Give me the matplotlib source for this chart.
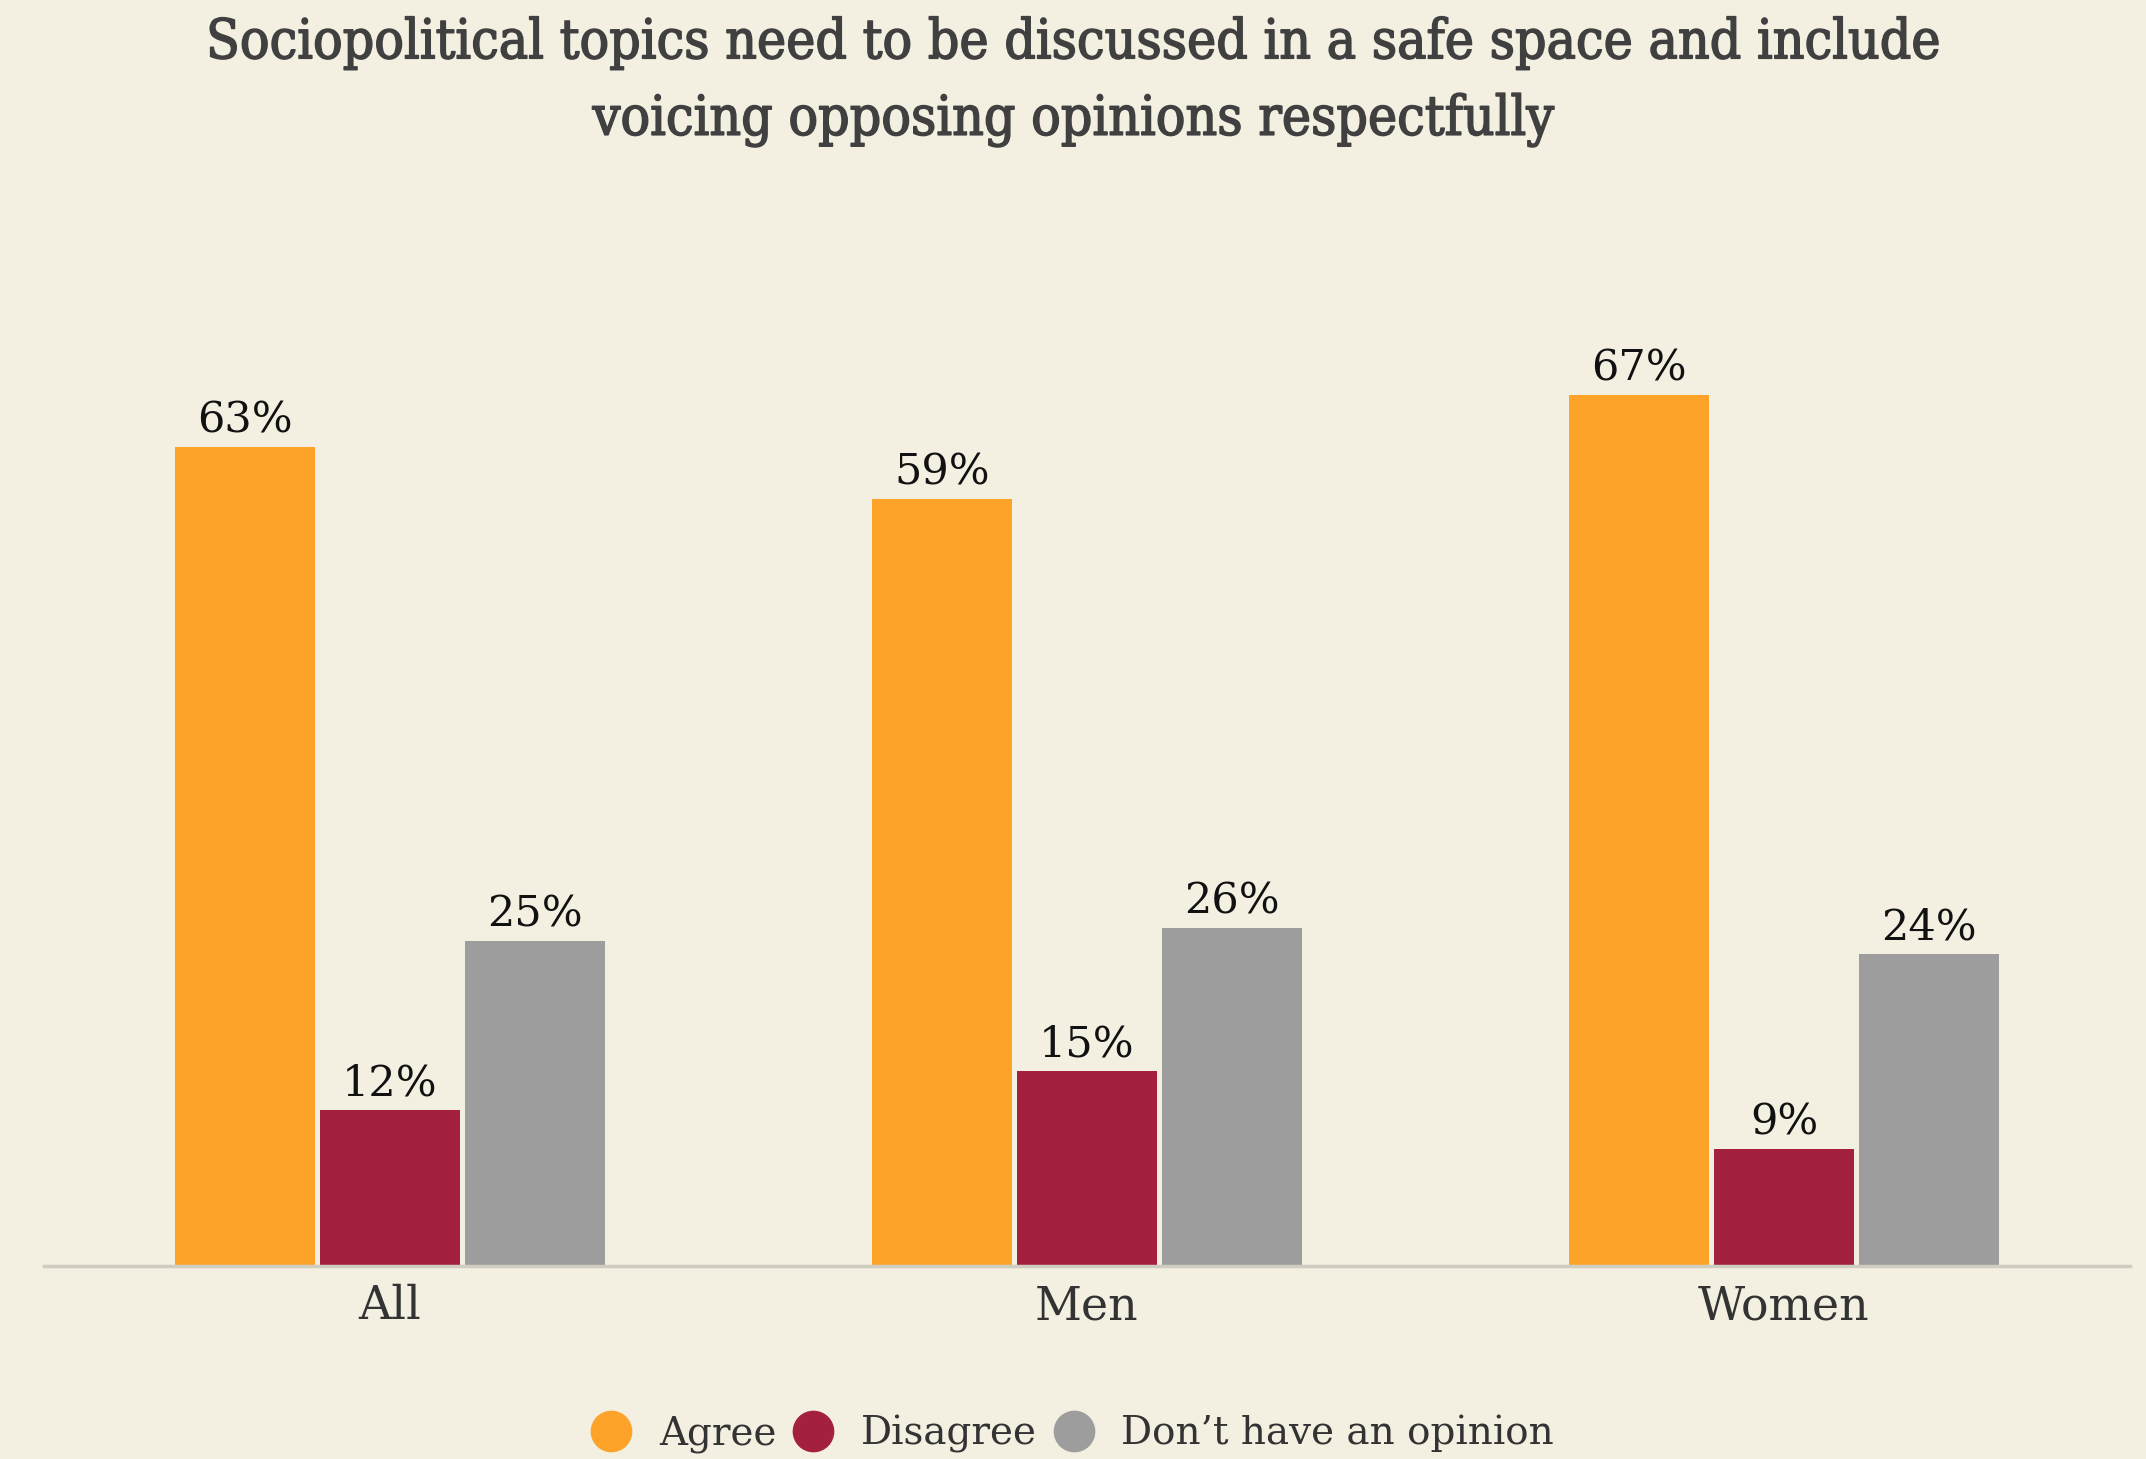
import matplotlib
matplotlib.use("Agg")
import matplotlib.pyplot as plt
import matplotlib.patheffects as pe
from matplotlib.lines import Line2D
import numpy as np

categories = ["All", "Men", "Women"]
series_names = ["Agree", "Disagree", "Don\u2019t have an opinion"]
agree = [63, 59, 67]
disagree = [12, 15, 9]
no_opinion = [25, 26, 24]

colors = ["#FDA32A", "#A3213F", "#9D9D9D"]
bg = "#F3EFE1"
W, H = 2146, 1459
DPI = 100

fig = plt.figure(figsize=(W / DPI, H / DPI), dpi=DPI, facecolor=bg)
ax = fig.add_axes([44 / W, (H - 1266) / H, (2130 - 44) / W, 975 / H])
ax.set_facecolor(bg)

x = np.arange(len(categories))
bw = 0.201
step = 0.208
for i, (vals, c) in enumerate(zip([agree, disagree, no_opinion], colors)):
    pos = x + (i - 1) * step
    bars = ax.bar(pos, vals, width=bw, color=c, zorder=2)
    for b, v in zip(bars, vals):
        ax.annotate(f"{v}%", (b.get_x() + b.get_width() / 2, v),
                    xytext=(0, 4), textcoords="offset points",
                    ha="center", va="bottom", fontsize=31,
                    family="DejaVu Serif", color="#111111")

ax.set_xlim(-0.4964, 2.4966)
ax.set_ylim(0, 75)
for s in ["top", "right", "left"]:
    ax.spines[s].set_visible(False)
ax.spines["bottom"].set_color("#CFCCC0")
ax.spines["bottom"].set_linewidth(2.5)
ax.set_yticks([])
ax.set_xticks(x)
ax.set_xticklabels(categories, fontsize=33, family="DejaVu Serif", color="#333333")
ax.tick_params(axis="x", length=0, pad=13)

title_color = "#404040"
title_kw = dict(ha="center", va="center", fontsize=39.5, family="DejaVu Serif",
                fontstretch="condensed", color=title_color,
                path_effects=[pe.withStroke(linewidth=1.1, foreground=title_color)])
fig.text(0.5, 1 - 43 / H, "Sociopolitical topics need to be discussed in a safe space and include", **title_kw)
fig.text(0.5, 1 - 120 / H, "voicing opposing opinions respectfully", **title_kw)

handles = [Line2D([], [], marker="o", linestyle="", markersize=29,
                  markerfacecolor=c, markeredgecolor=c) for c in colors]
fig.legend(handles, series_names, loc="center", bbox_to_anchor=(0.5, 1 - 1434 / H),
           ncol=3, frameon=False, prop={"family": "DejaVu Serif", "size": 28},
           handlelength=1.0, handletextpad=0.72, columnspacing=0.45, labelcolor="#333333")

fig.savefig("out.png", dpi=DPI, facecolor=bg)
